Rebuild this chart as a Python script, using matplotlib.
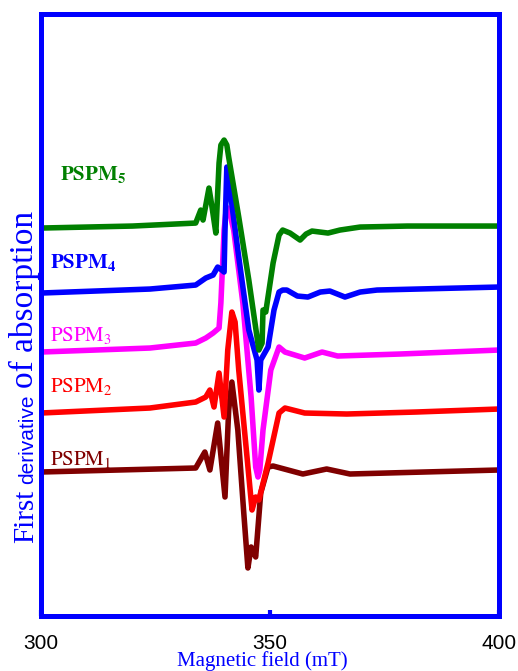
import matplotlib
matplotlib.use("Agg")
import matplotlib.pyplot as plt

plt.rcParams['mathtext.fontset'] = 'stix'

# Magnetic field (mT) and signal (arb. units)
b5 = [300, 320, 333.8, 334.9, 335.4, 336.7, 337.3, 338.2, 338.9, 339.3, 340.0, 340.6, 341.0,
      343.2, 345.4, 347.6, 348.3, 348.5, 349.1, 350.7, 352.0, 352.8, 354.4, 356.6, 357.9,
      359.2, 362.7, 365.3, 369.7, 380, 400]
y5 = [38.8, 39.0, 39.3, 40.6, 39.6, 42.8, 41.1, 38.3, 45.3, 47.1, 47.6, 47.1, 45.9,
      39.9, 33.6, 26.6, 27.3, 30.6, 30.4, 35.3, 38.1, 38.6, 38.3, 37.6, 38.2,
      38.5, 38.3, 38.6, 38.9, 39.0, 39.0]

b4 = [300, 323.8, 333.8, 336.0, 337.6, 338.6, 339.5, 340.0, 340.2, 340.6, 341.0, 343.2,
      345.4, 347.2, 347.6, 348.0, 349.6, 350.9, 352.0, 352.8, 353.7, 356.0, 358.3, 361.0,
      363.1, 366.4, 369.7, 373.4, 400]
y4 = [32.3, 32.7, 33.1, 33.8, 34.1, 34.9, 34.6, 34.4, 38.6, 44.9, 43.6, 35.9,
      28.6, 25.6, 22.6, 25.6, 26.9, 30.6, 32.4, 32.6, 32.6, 32.0, 31.9, 32.4,
      32.5, 31.9, 32.4, 32.6, 32.9]

b3 = [300, 323.8, 333.8, 336.0, 337.6, 338.9, 339.3, 340.0, 340.4, 341.0, 342.1, 344.1,
      345.9, 346.9, 347.4, 347.8, 348.5, 350.2, 352.0, 353.3, 357.6, 361.4, 364.8, 378.4, 400]
y3 = [26.4, 26.8, 27.3, 27.8, 28.3, 28.8, 31.3, 38.6, 40.4, 40.8, 38.6, 31.3,
      21.9, 14.9, 13.9, 14.6, 18.6, 24.6, 26.9, 26.4, 25.8, 26.4, 26.0, 26.2, 26.6]

b2 = [300, 323.8, 333.8, 336.0, 336.9, 337.8, 338.9, 340.0, 340.8, 341.7, 342.4, 343.2,
      344.8, 346.1, 346.9, 347.6, 349.6, 352.0, 353.3, 357.6, 366.8, 382.0, 400]
y2 = [20.3, 20.8, 21.4, 21.9, 22.6, 20.9, 24.3, 19.9, 26.6, 30.4, 29.4, 24.6,
      16.9, 10.6, 11.9, 11.6, 15.3, 20.3, 20.8, 20.3, 20.2, 20.4, 20.7]

b1 = [300, 333.8, 335.8, 336.9, 338.6, 340.2, 341.0, 341.7, 343.0, 344.3, 345.2, 345.9,
      346.9, 348.0, 349.6, 350.7, 357.2, 362.4, 367.5, 400]
y1 = [14.4, 14.8, 16.4, 14.6, 19.3, 11.9, 20.6, 23.4, 18.6, 10.3, 4.8, 6.9,
      5.9, 12.3, 14.9, 15.0, 14.2, 14.7, 14.2, 14.6]

names = [r'$\mathrm{PSPM_1}$', r'$\mathrm{PSPM_2}$', r'$\mathrm{PSPM_3}$',
         r'$\mathbf{PSPM_4}$', r'$\mathbf{PSPM_5}$']
colors = ['#800000', '#ff0000', '#ff00ff', '#0000ff', '#008000']
lab_x = [302.0, 302.0, 302.0, 302.0, 304.1]
lab_y = [15.1, 22.4, 27.5, 34.8, 43.6]

fig = plt.figure(figsize=(5.18, 6.71), dpi=100)
ax = fig.add_axes([0.079, 0.082, 0.884, 0.897])

for bx, yy, c in zip([b1, b2, b3, b4, b5], [y1, y2, y3, y4, y5], colors):
    ax.plot(bx, yy, color=c, lw=4, solid_joinstyle='round', solid_capstyle='round')

for n, c, tx, ty in zip(names, colors, lab_x, lab_y):
    ax.text(tx, ty, n, color=c, fontsize=15, va='baseline', ha='left')

ax.set_xlim(300, 400)
ax.set_ylim(0, 60.2)
ax.set_xticks([300, 350, 400])
ax.set_yticks([])
ax.tick_params(axis='x', direction='in', length=4, width=3, color='#0000ff',
               labelcolor='black', labelsize=15, pad=13)
for lbl in ax.get_xticklabels():
    lbl.set_family('Liberation Sans')
for s in ax.spines.values():
    s.set_color('#0000ff')
    s.set_linewidth(3.6)

fig.text(262 / 518, 0.0, 'Magnetic field (mT)', color='#0000ff', family='Liberation Serif',
         fontsize=15, ha='center', va='bottom')

# y label with mixed font sizes, pieces chained upwards
ylx = 33 / 518
pieces = [('First', 'Liberation Serif', 21), ('derivative', 'Liberation Sans', 15),
          ('of absorption', 'Liberation Serif', 24)]
ypix = 671 - 543
fig.canvas.draw()
rend = fig.canvas.get_renderer()
for word, fam, fs in pieces:
    t = fig.text(ylx, ypix / 671, word, rotation=90, rotation_mode='anchor',
                 ha='left', va='baseline', color='#0000ff', family=fam, fontsize=fs)
    ext = t.get_window_extent(rend)
    ypix = ext.y1 + 6

fig.savefig('out.png', dpi=100)
